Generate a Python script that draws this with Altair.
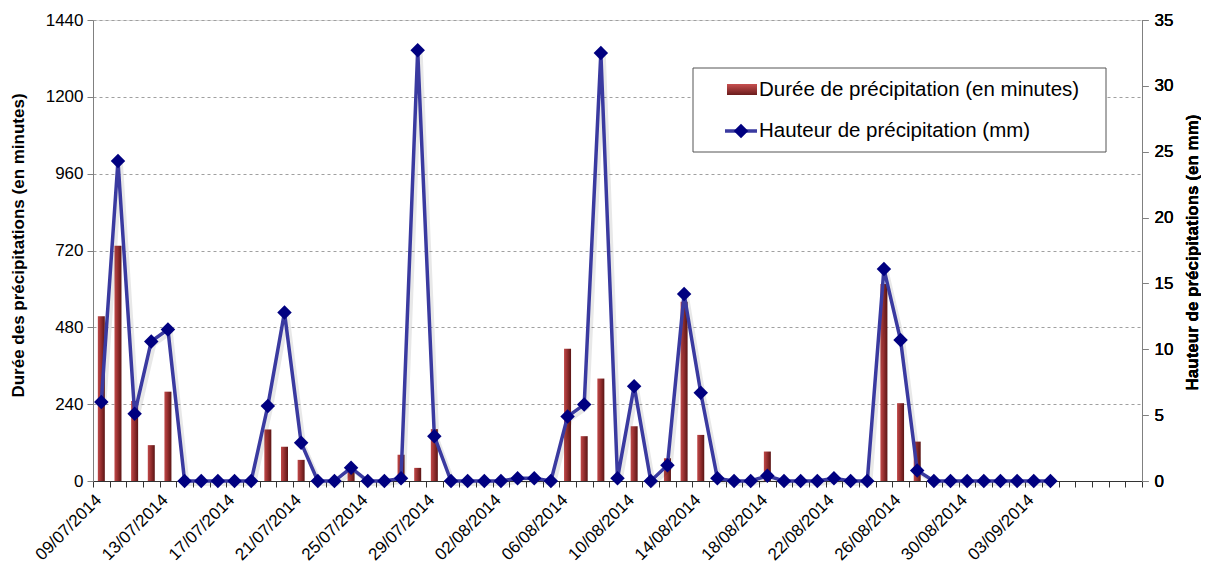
import json
import altair as alt
import pandas as pd

# ---- data ----
start = pd.Timestamp("2014-07-09")
dates = [(start + pd.Timedelta(days=i)).strftime("%d/%m/%Y") for i in range(63)]

shown_labels = ["09/07/2014", "13/07/2014", "17/07/2014", "21/07/2014", "25/07/2014",
                "29/07/2014", "02/08/2014", "06/08/2014", "10/08/2014", "14/08/2014",
                "18/08/2014", "22/08/2014", "26/08/2014", "30/08/2014", "03/09/2014"]

duree_min = [515, 735, 250, 112, 279, 0, 0, 0, 0, 0,
             161, 107, 66, 0, 0, 30, 0, 0, 82, 41,
             162, 0, 0, 0, 0, 0, 0, 0, 413, 140,
             320, 0, 171, 0, 71, 560, 144, 0, 0, 0,
             92, 0, 0, 0, 0, 0, 0, 615, 243, 123,
             0, 0, 0, 0, 0, 0, 0, 0]

hauteur_mm = [6.0, 24.3, 5.1, 10.6, 11.5, 0, 0, 0, 0, 0,
              5.7, 12.8, 2.9, 0, 0, 1.0, 0, 0, 0.2, 32.7,
              3.4, 0, 0, 0, 0, 0.2, 0.2, 0, 4.9, 5.8,
              32.5, 0.2, 7.2, 0, 1.2, 14.2, 6.7, 0.2, 0, 0,
              0.4, 0, 0, 0, 0.2, 0, 0, 16.1, 10.7, 0.8,
              0, 0, 0, 0, 0, 0, 0, 0]

left_ticks = [0, 240, 480, 720, 960, 1200, 1440]
right_ticks = [0, 5, 10, 15, 20, 25, 30, 35]

legend_labels = ["Durée de précipitation (en minutes)", "Hauteur de précipitation (mm)"]

bars_df = pd.DataFrame({"date": dates[:len(duree_min)], "duree": duree_min})
line_df = pd.DataFrame({"date": dates[:len(hauteur_mm)], "hauteur": hauteur_mm})

FONT = "Liberation Sans"
W, H = 1049, 461

label_expr = "indexof(" + json.dumps(shown_labels) + ", datum.value) >= 0 ? datum.value : ''"

x_enc = alt.X(
    "date:N",
    sort=None,
    scale=alt.Scale(domain=dates, paddingInner=0, paddingOuter=0),
    axis=alt.Axis(
        title=None,
        labelExpr=label_expr,
        labelAngle=315,
        labelAlign="right",
        labelBaseline="middle",
        labelOverlap=False,
        labelFontSize=17,
        labelFont=FONT,
        labelColor="#000",
        labelPadding=10,
        labelOffset=-3,
        tickBand="extent",
        tickSize=6,
        tickColor="#333",
        domainColor="#333",
        grid=False,
    ),
)

bar_grad = alt.Gradient(
    gradient="linear",
    stops=[
        alt.GradientStop(offset=0, color="#c04848"),
        alt.GradientStop(offset=0.45, color="#973030"),
        alt.GradientStop(offset=1, color="#5a1414"),
    ],
    x1=0, x2=1, y1=0, y2=0,
)

bars = alt.Chart(bars_df).mark_bar(size=7, color=bar_grad).encode(
    x=x_enc,
    y=alt.Y(
        "duree:Q",
        scale=alt.Scale(domain=[0, 1440], nice=False),
        axis=alt.Axis(
            values=left_ticks,
            format="d",
            title="Durée des précipitations (en minutes)",
            titleFont=FONT, titleFontSize=17, titleFontWeight="bold", titleColor="#000",
            titleAngle=270, titleAlign="center", titleBaseline="middle",
            titleX=-75, titleY=225,
            labelFont=FONT, labelFontSize=17, labelColor="#000", labelPadding=4,
            grid=True, gridDash=[3, 3], gridColor="#a0a0a0",
            domainColor="#808080", tickColor="#808080", tickSize=6,
        ),
    ),
)

line_y = alt.Y(
    "hauteur:Q",
    scale=alt.Scale(domain=[0, 35], nice=False),
    axis=alt.Axis(
        orient="right",
        values=right_ticks,
        format="d",
        title="Hauteur de précipitations (en mm)",
        titleFont=FONT, titleFontSize=17, titleFontWeight="bold", titleColor="#000",
        titleAngle=270, titleAlign="center", titleBaseline="middle",
        titleX=50, titleY=232,
        labelFont=FONT, labelFontSize=17, labelColor="#000", labelPadding=6,
        grid=False, domainColor="#808080", tickColor="#808080", tickSize=6,
    ),
)

shadow = alt.Chart(line_df).mark_line(
    color="#000", opacity=0.09, strokeWidth=4, xOffset=3, yOffset=3
).encode(x=alt.X("date:N", sort=None), y=line_y)

line = alt.Chart(line_df).mark_line(color="#3a3aa0", strokeWidth=3.5).encode(
    x=alt.X("date:N", sort=None), y=line_y
)

points = alt.Chart(line_df).mark_point(
    shape="diamond", filled=True, size=210, color="#000080", opacity=1
).encode(x=alt.X("date:N", sort=None), y=line_y)

one = alt.Data(values=[{}])

leg_box = alt.Chart(one).mark_rect(fill="white", stroke="#555", strokeWidth=1).encode(
    x=alt.value(600), x2=alt.value(1013), y=alt.value(48), y2=alt.value(132)
)
leg_bar = alt.Chart(one).mark_rect(color=alt.Gradient(
    gradient="linear",
    stops=[alt.GradientStop(offset=0, color="#c85050"), alt.GradientStop(offset=1, color="#6a1c1c")],
    x1=0, x2=0, y1=0, y2=1,
)).encode(x=alt.value(634), x2=alt.value(664), y=alt.value(64), y2=alt.value(75))
leg_line = alt.Chart(one).mark_rule(color="#3a3aa0", strokeWidth=3.5).encode(
    x=alt.value(632), x2=alt.value(664), y=alt.value(111)
)
leg_pt = alt.Chart(one).mark_point(shape="diamond", filled=True, size=210, color="#000080", opacity=1).encode(
    x=alt.value(648), y=alt.value(111)
)
leg_t1 = alt.Chart(one).mark_text(
    text=legend_labels[0], font=FONT, fontSize=20.5, align="left", baseline="middle", color="#000"
).encode(x=alt.value(666), y=alt.value(70))
leg_t2 = alt.Chart(one).mark_text(
    text=legend_labels[1], font=FONT, fontSize=20.5, align="left", baseline="middle", color="#000"
).encode(x=alt.value(666), y=alt.value(111))

chart = alt.layer(
    bars, shadow, line, points, leg_box, leg_bar, leg_line, leg_pt, leg_t1, leg_t2
).resolve_scale(y="independent").properties(
    width=W, height=H,
    autosize=alt.AutoSizeParams(type="none"),
    padding={"left": 85, "top": 12, "right": 59, "bottom": 84},
).configure_view(stroke="#888", strokeWidth=1).configure(background="white")

chart.save("out.html", embed_options={"renderer": "svg", "actions": False})
